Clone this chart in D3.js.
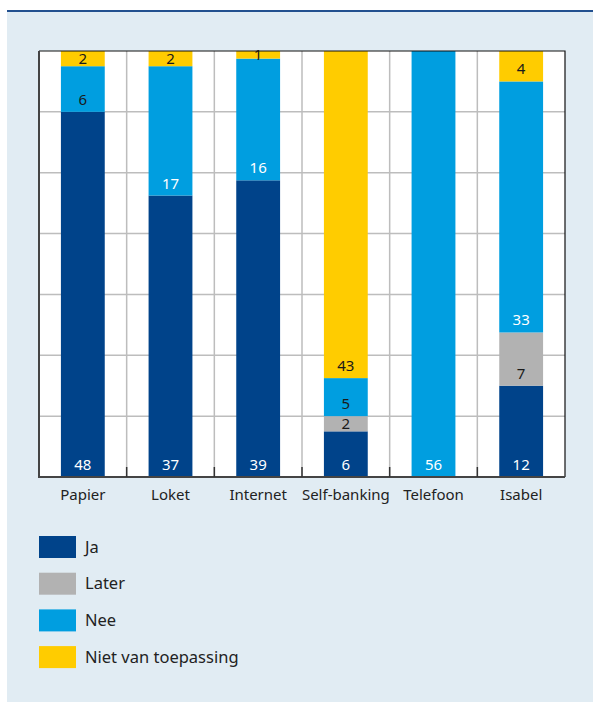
<!DOCTYPE html>
<html>
<head>
<meta charset="utf-8">
<script src="https://cdn.jsdelivr.net/npm/d3@7"></script>
<style>
  body { margin: 0; background: #fff; }
  svg { display: block; font-family: "Noto Sans", sans-serif; }
</style>
</head>
<body>
<div id="chart"></div>
<script>
const categories = ["Papier", "Loket", "Internet", "Self-banking", "Telefoon", "Isabel"];
const seriesNames = ["Ja", "Later", "Nee", "Niet van toepassing"];
const ja = [48, 37, 39, 6, 0, 12];
const later = [0, 0, 0, 2, 0, 7];
const nee = [6, 17, 16, 5, 56, 33];
const niet = [2, 2, 1, 43, 0, 4];
const yTicks = [0, 8, 16, 24, 32, 40, 48, 56];

const colors = ["#00438a", "#b2b2b2", "#009ee0", "#ffcc00"];
const labelColors = ["#fff", "#1a1a1a", "#fff", "#1a1a1a"];

const width = 593, height = 702;
const marginTop = 51, marginLeft = 39, marginRight = 28, marginBottom = 225;

const data = categories.map((c, i) => ({
  cat: c, "Ja": ja[i], "Later": later[i], "Nee": nee[i], "Niet van toepassing": niet[i]
}));
const stacked = d3.stack().keys(seriesNames)(data);

const svg = d3.select("#chart").append("svg")
  .attr("width", width).attr("height", height);

// panel
svg.append("rect").attr("x", 7).attr("y", 11).attr("width", width - 7).attr("height", height - 11)
  .attr("fill", "#e1ecf3");
svg.append("line").attr("x1", 7).attr("x2", width).attr("y1", 11).attr("y2", 11)
  .attr("stroke", "#22508f").attr("stroke-width", 2.2);

const x = d3.scaleBand()
  .domain(categories)
  .range([marginLeft, width - marginRight])
  .paddingInner(0.5).paddingOuter(0.25);
const xEdge = d3.scaleBand().domain(categories).range([marginLeft, width - marginRight]);
const y = d3.scaleLinear().domain([0, 56]).range([height - marginBottom, marginTop]);

// plot area
svg.append("rect")
  .attr("x", marginLeft).attr("y", marginTop)
  .attr("width", width - marginRight - marginLeft).attr("height", y(0) - marginTop)
  .attr("fill", "#fff");

// grid
svg.append("g")
  .selectAll("line").data(yTicks.slice(1, -1)).join("line")
  .attr("x1", marginLeft).attr("x2", width - marginRight)
  .attr("y1", d => y(d)).attr("y2", d => y(d))
  .attr("stroke", "#bdbdbd").attr("stroke-width", 1.5);
svg.append("g")
  .selectAll("line").data(categories.slice(1)).join("line")
  .attr("x1", d => xEdge(d)).attr("x2", d => xEdge(d))
  .attr("y1", marginTop).attr("y2", y(0))
  .attr("stroke", "#bdbdbd").attr("stroke-width", 1.5);

// bars
const layers = svg.append("g").selectAll("g").data(stacked).join("g")
  .attr("fill", (d, i) => colors[i]);
layers.selectAll("rect").data(d => d).join("rect")
  .attr("x", d => x(d.data.cat))
  .attr("y", d => y(d[1]))
  .attr("width", x.bandwidth())
  .attr("height", d => y(d[0]) - y(d[1]));

// labels
stacked.forEach((layer, si) => {
  svg.append("g")
    .selectAll("text").data(layer.filter(d => d[1] - d[0] > 0)).join("text")
    .attr("x", d => x(d.data.cat) + x.bandwidth() / 2)
    .attr("y", d => {
      const h = y(d[0]) - y(d[1]);
      return y(d[0]) - Math.min(7, h / 2 - 5.5);
    })
    .attr("text-anchor", "middle")
    .attr("font-size", 15)
    .attr("fill", d => (layer.key === "Nee" && d[1] - d[0] < 8) ? "#1a1a1a" : labelColors[si])
    .text(d => d[1] - d[0]);
});

// frame
svg.append("path")
  .attr("d", `M${marginLeft},${marginTop}H${width - marginRight}V${y(0)}`)
  .attr("fill", "none").attr("stroke", "#111").attr("stroke-width", 1.2);
svg.append("path")
  .attr("d", `M${marginLeft},${marginTop}V${y(0)}H${width - marginRight}`)
  .attr("fill", "none").attr("stroke", "#444").attr("stroke-width", 2);

// bottom ticks at category edges
svg.append("g")
  .selectAll("line").data(categories.slice(1)).join("line")
  .attr("x1", d => xEdge(d)).attr("x2", d => xEdge(d))
  .attr("y1", y(0) - 10).attr("y2", y(0))
  .attr("stroke", "#333").attr("stroke-width", 1.5);

// category labels
svg.append("g")
  .attr("transform", `translate(0,${y(0)})`)
  .call(d3.axisBottom(x).tickSize(0).tickPadding(12))
  .call(g => g.select(".domain").remove())
  .call(g => g.selectAll("text")
    .attr("font-family", "Noto Sans, sans-serif")
    .attr("font-size", 15)
    .attr("fill", "#222"));

// legend
const legend = svg.append("g").attr("transform", "translate(39,536)")
  .selectAll("g").data(seriesNames).join("g")
  .attr("transform", (d, i) => `translate(0,${i * 36.7})`);
legend.append("rect").attr("width", 37).attr("height", 22)
  .attr("fill", (d, i) => colors[i]);
legend.append("text").attr("x", 46).attr("y", 11).attr("dy", "0.35em")
  .attr("font-size", 16.5).attr("fill", "#222")
  .text(d => d);
</script>
</body>
</html>
